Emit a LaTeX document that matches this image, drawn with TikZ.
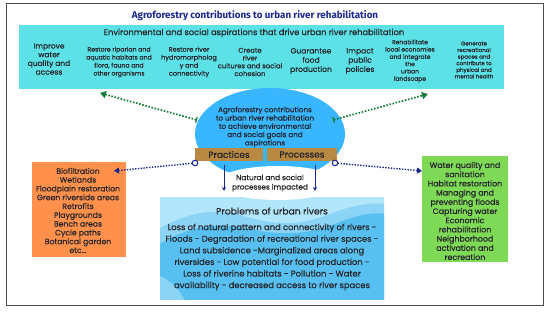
\documentclass[tikz,border=0pt]{standalone}
\usepackage{fontspec}
\setmainfont{Poppins}[FakeBold=0.2]
\newfontfamily\titlefont{Fira Sans}
\usetikzlibrary{arrows.meta,shapes.geometric}
\definecolor{navy}{RGB}{28,40,140}
\definecolor{aspcyan}{RGB}{92,225,230}
\definecolor{ellblue}{RGB}{56,182,255}
\definecolor{barbrown}{RGB}{183,137,66}
\definecolor{orangebox}{RGB}{255,145,77}
\definecolor{greenbox}{RGB}{126,217,87}
\definecolor{problight}{RGB}{178,230,250}
\definecolor{probmid}{RGB}{140,212,246}
\definecolor{probdark}{RGB}{88,192,240}
\definecolor{darkgreen}{RGB}{20,125,55}
\definecolor{txt}{RGB}{35,35,40}
\definecolor{framegray}{RGB}{75,75,75}
\newcommand{\fs}[2]{\fontsize{#1}{#2}\selectfont}
\begin{document}
\begin{tikzpicture}[x=1pt,y=-1pt,
  lbl/.style={align=center, text=txt, inner sep=0pt},
  bar/.style={fill=barbrown, minimum height=13pt, inner sep=0pt, text=txt, font=\fs{9}{10}},
  gdots/.style={darkgreen, line width=1.7pt, dash pattern=on 1.6pt off 1.6pt, {Bar[width=6pt,line width=1.2pt]}-{Triangle[width=7pt,length=6pt]}},
  bdots/.style={navy, line width=1.4pt, dash pattern=on 1.4pt off 1.4pt, -{Triangle[width=6pt,length=5pt]}},
  down/.style={navy, line width=0.9pt, -{Stealth[width=4pt,length=4pt]}},
  ring/.style={circle, draw=navy, fill=white, line width=1.1pt, minimum size=5.5pt, inner sep=0pt}]
\useasboundingbox (0,0) rectangle (550,312);
\fill[white] (0,0) rectangle (550,312);
\draw[framegray, line width=0.9pt] (6.5,3.5) rectangle (543,305);

% title
\node[inner sep=0pt, text=navy, font=\titlefont\bfseries\fs{9.8}{11}] (title) at (255,16) {Agroforestry contributions to urban river rehabilitation};

% aspirations box
\node[fill=aspcyan, minimum width=485pt, minimum height=64pt, inner sep=0pt, anchor=north west] (asp) at (19,25) {};
\node[lbl, font=\fs{8.3}{9}] (asptitle) at (254,33) {Environmental and social aspirations that drive urban river rehabilitation};
\node[lbl, font=\fs{7.5}{8.7}] (a1) at (49,59) {Improve\\water\\quality and\\access};
\node[lbl, font=\fs{6.2}{8}] (a2) at (119,62) {Restore riparian and\\aquatic habitats and\\flora, fauna and\\other organisms};
\node[lbl, font=\fs{6.6}{8}] (a3) at (189,62) {Restore river\\hydromorpholog\\y and\\connectivity};
\node[lbl, font=\fs{6.8}{7.8}] (a4) at (250,62) {Create\\river\\cultures and social\\cohesion};
\node[lbl, font=\fs{7.6}{9.2}] (a5) at (311,61) {Guarantee\\food\\production};
\node[lbl, font=\fs{7.6}{9.2}] (a6) at (360,61) {Impact\\public\\policies};
\node[lbl, font=\fs{6}{7.3}] (a7) at (410,61) {Rehabilitate\\local economies\\and integrate\\the\\urban\\landscape};
\node[lbl, font=\fs{5.5}{6.6}] (a8) at (474,60) {Generate\\recreational\\spaces and\\contribute to\\physical and\\mental health};

% problems box with waves
\node[minimum width=224pt, minimum height=103pt, inner sep=0pt, fill=problight] (prob) at (272,248.5) {};
\begin{scope}
\clip (prob.north west) rectangle (prob.south east);
\fill[probmid] (160,228) .. controls (190,212) and (215,208) .. (240,215)
  .. controls (275,226) and (300,226) .. (330,214) .. controls (350,206) and (370,202) .. (384,204)
  -- (384,300) -- (160,300) -- cycle;
\fill[probdark] (160,244) .. controls (185,228) and (215,222) .. (245,228)
  .. controls (280,236) and (310,235) .. (340,222) .. controls (360,214) and (375,212) .. (384,214)
  -- (384,300) -- (185,300) .. controls (178,288) and (170,280) .. (160,276) -- cycle;
\end{scope}

% ellipse
\node[ellipse, fill=ellblue, minimum width=150pt, minimum height=92pt, inner sep=0pt] (ell) at (270,134) {};
\node[lbl, font=\fs{7.2}{8.3}] (goal) at (265,127) {Agroforestry contributions\\to urban river rehabilitation\\to achieve environmental\\and social goals and\\aspirations};

% bars
\node[bar, minimum width=68pt] (prac) at (229,154.5) {Practices};
\node[bar, minimum width=70pt] (proc) at (302,154.5) {Processes};

% white label under bars
\fill[white] (278,183) ellipse [x radius=62, y radius=17];
\node[lbl, font=\fs{7.4}{9.4}] (nat) at (270,183) {Natural and social\\processes impacted};
\coordinate (dl0) at (224,165);
\coordinate (dl1) at (224,191);
\coordinate (dr0) at (315,165);
\coordinate (dr1) at (315,191);
\draw[down] (dl0) -- (dl1);
\draw[down] (dr0) -- (dr1);

% problems text
\node[lbl, font=\fs{9.2}{10}] (probtitle) at (272,211) {Problems of urban rivers};
\node[lbl, font=\fs{8.4}{11.6}] (probtext) at (272,257) {Loss of natural pattern and connectivity of rivers -\\Floods - Degradation of recreational river spaces -\\Land subsidence -Marginalized areas along\\riversides - Low potential for food production -\\Loss of riverine habitats - Pollution - Water\\availability - decreased access to river spaces};

% orange box
\node[fill=orangebox, minimum width=94pt, minimum height=95pt, inner sep=0pt] (prbox) at (79,209.5) {};
\node[lbl, font=\fs{7.7}{8.8}] (prtext) at (78,210.5) {Biofiltration\\Wetlands\\Floodplain restoration\\Green riverside areas\\Retrofits\\Playgrounds\\Bench areas\\Cycle paths\\Botanical garden\\etc...};

% green box
\node[fill=greenbox, minimum width=86pt, minimum height=106pt, inner sep=0pt] (pcbox) at (465,209) {};
\node[lbl, font=\fs{7.9}{9.2}] (pctext) at (465,211) {Water quality and\\sanitation\\Habitat restoration\\Managing and\\preventing floods\\Capturing water\\Economic\\rehabilitation\\Neighborhood\\activation and\\recreation};

% green dotted arrows
\coordinate (gl0) at (197,120);
\coordinate (gl1) at (100,93);
\coordinate (gr0) at (333,120);
\coordinate (gr1) at (428,94);
\draw[gdots] (gl0) -- (gl1);
\draw[gdots] (gr0) -- (gr1);

% blue dotted arrows
\coordinate (cl) at (195,163);
\coordinate (cr) at (335,163);
\coordinate (bl1) at (114,171);
\coordinate (br1) at (422,171);
\draw[bdots] (cl) -- (bl1);
\draw[bdots] (cr) -- (br1);
\node[ring] (ringl) at (cl) {};
\node[ring] (ringr) at (cr) {};
\end{tikzpicture}
\end{document}
